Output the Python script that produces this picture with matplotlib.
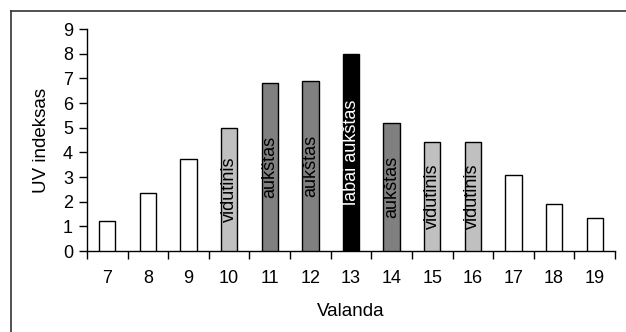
import matplotlib
matplotlib.use("Agg")
import matplotlib.pyplot as plt
from matplotlib.lines import Line2D
import numpy as np

hours = [7, 8, 9, 10, 11, 12, 13, 14, 15, 16, 17, 18, 19]
uv_index = [1.2, 2.35, 3.75, 5.0, 6.8, 6.9, 8.0, 5.2, 4.4, 4.4, 3.1, 1.9, 1.35]
levels = ["", "", "", "vidutinis", "aukštas", "aukštas", "labai aukštas",
          "aukštas", "vidutinis", "vidutinis", "", "", ""]
level_colors = {"": "#FFFFFF", "vidutinis": "#C0C0C0", "aukštas": "#808080",
                "labai aukštas": "#000000"}
label_colors = {"vidutinis": "black", "aukštas": "black", "labai aukštas": "white"}

plt.rcParams['font.family'] = ['Liberation Sans', 'DejaVu Sans']
FS = 13
FS_LAB = 13.5

fig = plt.figure(figsize=(6.26, 3.32), dpi=100)
ax = fig.add_axes([87/626, 81/332, (615-87)/626, (251-29)/332])

x = np.arange(len(hours))
colors = [level_colors[l] for l in levels]
ax.bar(x, uv_index, width=0.4, color=colors, edgecolor="black", linewidth=1.0, zorder=3)

for xi, v, lab in zip(x, uv_index, levels):
    if lab:
        ax.text(xi, v / 2, lab, rotation=90, ha="center", va="center",
                fontsize=FS, color=label_colors[lab], zorder=4)

ax.set_xlim(-0.5, len(hours) - 0.5)
ax.set_ylim(0, 9)
ax.set_yticks(range(0, 10))
ax.tick_params(axis="y", direction="out", length=6, width=1, labelsize=FS, pad=4)

ax.set_xticks(x)
ax.set_xticklabels([str(h) for h in hours])
ax.set_xticks(np.arange(-0.5, len(hours)), minor=True)
ax.tick_params(axis="x", which="major", length=0, labelsize=FS, pad=14)
ax.tick_params(axis="x", which="minor", direction="out", length=6, width=1)

for s in ["top", "right"]:
    ax.spines[s].set_visible(False)
ax.spines["left"].set_linewidth(1)
ax.spines["bottom"].set_linewidth(1)

ax.set_ylabel("UV indeksas", fontsize=FS_LAB, labelpad=9)
ax.set_xlabel("Valanda", fontsize=FS_LAB, labelpad=11)

# outer frame (top and left visible)
fig.add_artist(Line2D([11/626, 1.0], [1 - 11/332, 1 - 11/332], color="#333333", linewidth=1.2,
                      transform=fig.transFigure))
fig.add_artist(Line2D([11/626, 11/626], [0, 1 - 11/332], color="#333333", linewidth=1.2,
                      transform=fig.transFigure))

fig.savefig("out.png", dpi=100)
